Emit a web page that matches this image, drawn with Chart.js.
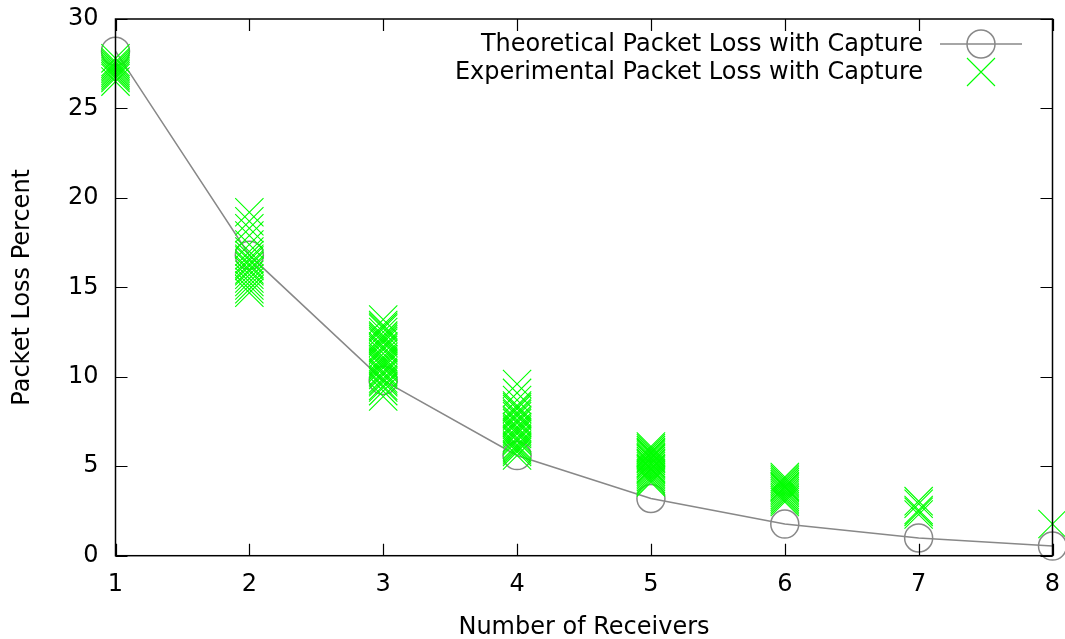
<!DOCTYPE html>
<html>
<head>
<meta charset="utf-8">
<script src="https://cdn.jsdelivr.net/npm/chart.js@4/dist/chart.umd.min.js"></script>
<style>
  html, body { margin: 0; padding: 0; background: #ffffff; }
  #wrap { width: 1065px; height: 639px; }
</style>
</head>
<body>
<div id="wrap"><canvas id="c" width="1065" height="639"></canvas></div>
<script>
// ---- data ----
const receivers = [1, 2, 3, 4, 5, 6, 7, 8];
const theoretical = [28.2, 16.8, 9.8, 5.6, 3.2, 1.77, 0.99, 0.54];
const exp1 = [27.8, 27.6, 27.5, 27.4, 27.3, 27.2, 27.1, 27.0, 26.9, 26.8, 26.7, 26.5];
const exp2 = [19.2, 18.7, 18.3, 17.9, 17.4, 17.0, 16.8, 16.6, 16.5, 16.3, 16.2, 16.0, 15.9, 15.7, 15.5, 15.3, 15.1, 14.9, 14.7];
const exp3 = [13.2, 12.9, 12.8, 12.7, 12.5, 12.3, 12.2, 12.1, 12.0, 11.9, 11.7, 11.6, 11.5, 11.3, 11.1, 11.0, 10.9, 10.8, 10.7, 10.6, 10.5, 10.3, 10.2, 10.1, 9.9, 9.8, 9.7, 9.5, 9.4, 9.2, 8.9];
const exp4 = [9.6, 9.1, 8.7, 8.4, 8.3, 8.2, 8.0, 7.9, 7.8, 7.6, 7.5, 7.4, 7.2, 7.1, 7.0, 6.9, 6.8, 6.6, 6.5, 6.4, 6.2, 6.1, 6.0, 5.9, 5.8, 5.6];
const exp5 = [6.1, 6.0, 5.9, 5.8, 5.75, 5.7, 5.6, 5.5, 5.45, 5.4, 5.3, 5.2, 5.15, 5.1, 5.0, 4.9, 4.85, 4.8, 4.7, 4.6, 4.5, 4.4, 4.3, 4.2, 4.1];
const exp6 = [4.4, 4.3, 4.2, 4.1, 4.0, 3.9, 3.85, 3.8, 3.7, 3.6, 3.5, 3.4, 3.3, 3.2, 3.1, 3.0];
const exp7 = [3.05, 2.9, 2.55, 2.45, 2.3];
const exp8 = [1.77];
const experimental = [exp1, exp2, exp3, exp4, exp5, exp6, exp7, exp8];
const yTicks = [0, 5, 10, 15, 20, 25, 30];
const seriesNames = ['Theoretical Packet Loss with Capture', 'Experimental Packet Loss with Capture'];

// ---- build datasets ----
const theoPoints = receivers.map((r, i) => ({ x: r, y: theoretical[i] }));
const expPoints = [];
receivers.forEach((r, i) => experimental[i].forEach(v => expPoints.push({ x: r, y: v })));

const FONT = 'DejaVu Sans';
const GRAY = '#888888';
const GREEN = '#00ff00';

function noOverflow(s) {
  s.paddingLeft = 0; s.paddingRight = 0; s.paddingTop = 0; s.paddingBottom = 0;
}

const frameAndLegend = {
  id: 'frameAndLegend',
  afterDatasetsDraw(chart) {
    const { ctx, chartArea: a, scales } = chart;
    ctx.save();
    // inward tick marks (mirrored)
    ctx.strokeStyle = '#000';
    ctx.lineWidth = 1.2;
    const tl = 12;
    ctx.beginPath();
    yTicks.forEach(v => {
      const py = Math.round(scales.y.getPixelForValue(v)) + 0.5;
      ctx.moveTo(a.left, py); ctx.lineTo(a.left + tl, py);
      ctx.moveTo(a.right, py); ctx.lineTo(a.right - tl, py);
    });
    receivers.forEach(v => {
      const px = Math.round(scales.x.getPixelForValue(v)) + 0.5;
      ctx.moveTo(px, a.bottom); ctx.lineTo(px, a.bottom - tl);
      ctx.moveTo(px, a.top); ctx.lineTo(px, a.top + tl);
    });
    ctx.stroke();
    // frame
    ctx.lineWidth = 1.5;
    ctx.strokeRect(a.left, a.top, a.right - a.left, a.bottom - a.top);

    // legend (gnuplot style: text then sample)
    const textRight = 923, sx0 = 940, sx1 = 1022, sc = 981;
    const y1 = 44, y2 = 72;
    ctx.font = '24px "' + FONT + '"';
    ctx.fillStyle = '#000';
    ctx.textAlign = 'right';
    ctx.textBaseline = 'middle';
    ctx.fillText(seriesNames[0], textRight, y1 + 1);
    ctx.fillText(seriesNames[1], textRight, y2 + 1);
    ctx.strokeStyle = GRAY;
    ctx.lineWidth = 1.5;
    ctx.beginPath(); ctx.moveTo(sx0, y1); ctx.lineTo(sx1, y1); ctx.stroke();
    ctx.beginPath(); ctx.arc(sc, y1, 14, 0, Math.PI * 2); ctx.stroke();
    ctx.strokeStyle = GREEN;
    ctx.lineWidth = 1.1;
    const h = 14;
    ctx.beginPath();
    ctx.moveTo(sc - h, y2 - h); ctx.lineTo(sc + h, y2 + h);
    ctx.moveTo(sc - h, y2 + h); ctx.lineTo(sc + h, y2 - h);
    ctx.stroke();
    ctx.restore();
  }
};

new Chart(document.getElementById('c'), {
  type: 'scatter',
  data: {
    datasets: [
      {
        label: seriesNames[0],
        data: theoPoints,
        showLine: true,
        tension: 0,
        borderColor: GRAY,
        borderWidth: 1.5,
        backgroundColor: 'rgba(0,0,0,0)',
        pointStyle: 'circle',
        pointRadius: 14,
        pointBorderWidth: 1.5,
        pointBorderColor: GRAY,
        pointBackgroundColor: 'rgba(0,0,0,0)',
        clip: false,
        order: 1
      },
      {
        label: seriesNames[1],
        data: expPoints,
        showLine: false,
        pointStyle: 'crossRot',
        pointRadius: 20,
        pointBorderWidth: 1.1,
        borderColor: GREEN,
        pointBorderColor: GREEN,
        backgroundColor: GREEN,
        clip: false,
        order: 0
      }
    ]
  },
  options: {
    responsive: false,
    animation: false,
    events: [],
    layout: { autoPadding: false, padding: { left: 0, top: 19, right: 12.5, bottom: 0 } },
    plugins: { legend: { display: false }, tooltip: { enabled: false } },
    scales: {
      x: {
        type: 'linear',
        min: 1, max: 8,
        afterBuildTicks(s) { s.ticks = receivers.map(v => ({ value: v })); },
        ticks: { color: '#000', padding: 15, font: { family: FONT, size: 24 } },
        grid: { display: false, drawTicks: false },
        border: { display: false },
        title: { display: true, text: 'Number of Receivers', color: '#000', font: { family: FONT, size: 24 }, padding: { top: 0, bottom: -3 } },
        afterFit(s) { s.height = 83.3; noOverflow(s); }
      },
      y: {
        type: 'linear',
        min: 0, max: 30,
        afterBuildTicks(s) { s.ticks = yTicks.map(v => ({ value: v })); },
        ticks: { color: '#000', padding: 17, font: { family: FONT, size: 24 } },
        grid: { display: false, drawTicks: false },
        border: { display: false },
        title: { display: true, text: 'Packet Loss Percent', color: '#000', font: { family: FONT, size: 24 }, padding: { top: 8, bottom: 0 } },
        afterFit(s) { s.width = 115.5; noOverflow(s); }
      }
    }
  },
  plugins: [frameAndLegend]
});
</script>
</body>
</html>
